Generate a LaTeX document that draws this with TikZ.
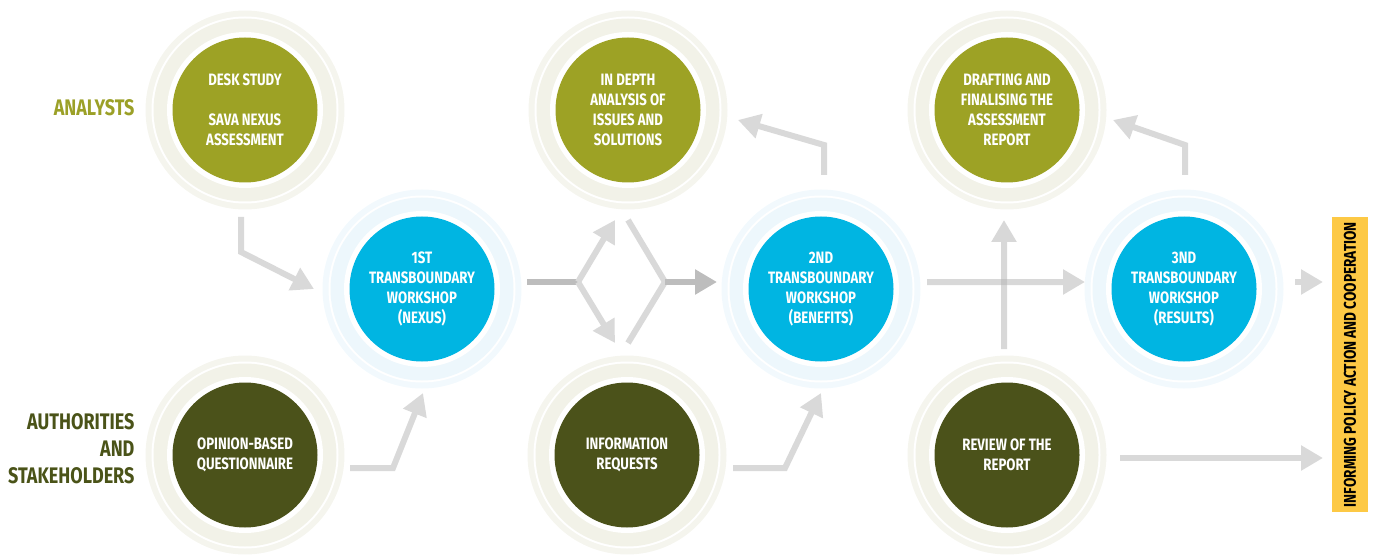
\documentclass[tikz,border=0pt]{standalone}
\usepackage{fontspec}
\setmainfont{Fira Sans}[FakeStretch=0.8]
\usetikzlibrary{arrows.meta,backgrounds}

\definecolor{olivefill}{HTML}{9DA225}
\definecolor{darkfill}{HTML}{4B521A}
\definecolor{bluefill}{HTML}{00B5E2}
\definecolor{oliveband}{HTML}{F2F2E8}
\definecolor{oliveouter}{HTML}{F5F5EE}
\definecolor{blueband}{HTML}{EDF7FC}
\definecolor{blueouter}{HTML}{F2F9FD}
\definecolor{arrowgray}{HTML}{D9D9D9}
\definecolor{arrowdark}{HTML}{BDBDBD}
\definecolor{analystcol}{HTML}{9BA027}
\definecolor{authcol}{HTML}{4A5318}
\definecolor{policyyellow}{HTML}{FDC945}

\tikzset{
  stage/.style={circle, fill=#1, minimum size=145pt, inner sep=0pt,
    text=white, align=center, font=\bfseries\fontsize{16.5}{20}\selectfont},
  flow/.style={draw=arrowgray, line width=6pt, line join=miter,
    -{Triangle[length=22pt,width=24pt]}},
  flowline/.style={draw=arrowgray, line width=6pt, line join=miter},
  flowdark/.style={draw=arrowdark, line width=6pt, line join=miter},
  rolelabel/.style={anchor=east, align=right,
    font=\bfseries\fontsize{22.5}{27}\selectfont},
}

\begin{document}
\begin{tikzpicture}[x=1pt,y=-1pt]
\useasboundingbox (0,0) rectangle (1376,556);

% stages
\node[stage=olivefill] (desk) at (245,110) {DESK STUDY\\[20pt]SAVA NEXUS\\ASSESSMENT};
\node[stage=olivefill] (depth) at (628,110) {IN DEPTH\\ANALYSIS OF\\ISSUES AND\\SOLUTIONS};
\node[stage=olivefill] (draft) at (1007,110) {DRAFTING AND\\FINALISING THE\\ASSESSMENT\\REPORT};
\node[stage=bluefill] (ws1) at (422,289) {1ST\\TRANSBOUNDARY\\WORKSHOP\\(NEXUS)};
\node[stage=bluefill] (ws2) at (821,289) {2ND\\TRANSBOUNDARY\\WORKSHOP\\(BENEFITS)};
\node[stage=bluefill] (ws3) at (1184,289) {3ND\\TRANSBOUNDARY\\WORKSHOP\\(RESULTS)};
\node[stage=darkfill] (quest) at (245,455) {OPINION-BASED\\QUESTIONNAIRE};
\node[stage=darkfill] (info) at (627,455) {INFORMATION\\REQUESTS};
\node[stage=darkfill] (review) at (1007,455) {REVIEW OF THE\\REPORT};

% halo rings behind each stage
\begin{pgfonlayer}{background}
\foreach \n/\band/\outer in {desk/oliveband/oliveouter, depth/oliveband/oliveouter,
    draft/oliveband/oliveouter, quest/oliveband/oliveouter, info/oliveband/oliveouter,
    review/oliveband/oliveouter, ws1/blueband/blueouter, ws2/blueband/blueouter,
    ws3/blueband/blueouter} {
  \fill[\outer] (\n.center) circle[radius=99.5pt];
  \fill[white] (\n.center) circle[radius=93.5pt];
  \fill[\band] (\n.center) circle[radius=91.5pt];
  \fill[white] (\n.center) circle[radius=78pt];
}
\end{pgfonlayer}

% role labels
\node[rolelabel, text=analystcol] (analysts) at (138,108) {ANALYSTS};
\node[rolelabel, text=authcol] (authorities) at (138,449) {AUTHORITIES\\AND\\STAKEHOLDERS};

% outcome bar
\node[fill=policyyellow, rotate=90, minimum width=295pt, minimum height=36pt,
  inner sep=0pt, font=\bfseries\fontsize{17}{18}\selectfont] (policy) at (1350,364.5)
  {INFORMING POLICY ACTION AND COOPERATION};

% connector end points
\coordinate (a1s) at (241,217);  \coordinate (a1k) at (241,252);  \coordinate (a1e) at (314,289);
\coordinate (a2s) at (350,468);  \coordinate (a2k) at (393,468);  \coordinate (a2e) at (423,393);
\coordinate (sps) at (527,282);  \coordinate (spk) at (578,282);
\coordinate (spu) at (615,220);  \coordinate (spd) at (615,343);
\coordinate (mgu) at (628,220);  \coordinate (mgd) at (628,343);
\coordinate (mgk) at (665,282);  \coordinate (mge) at (717,282);
\coordinate (a5s) at (733,468);  \coordinate (a5k) at (785,468);  \coordinate (a5e) at (821,393);
\coordinate (a6s) at (824,175);  \coordinate (a6k) at (824,145);  \coordinate (a6e) at (738,120);
\coordinate (a7s) at (927,282);  \coordinate (a7e) at (1085,282);
\coordinate (a8s) at (1004,349); \coordinate (a8e) at (1004,220);
\coordinate (a9s) at (1185,175); \coordinate (a9k) at (1185,145); \coordinate (a9e) at (1113,120);
\coordinate (a10s) at (1295,282); \coordinate (a10e) at (1323,282);
\coordinate (a11s) at (1120,458); \coordinate (a11e) at (1323,458);

% connectors
\draw[flow] (a1s) -- (a1k) -- (a1e);
\draw[flow] (a2s) -- (a2k) -- (a2e);
\draw[flowdark] (sps) -- (spk);
\draw[flow] (spk) -- (spu);
\draw[flow] (spk) -- (spd);
\draw[flowline] (mgu) -- (mgk) -- (mgd);
\draw[flowdark, -{Triangle[length=22pt,width=24pt]}] (mgk) -- (mge);
\draw[flow] (a5s) -- (a5k) -- (a5e);
\draw[flow] (a6s) -- (a6k) -- (a6e);
\begin{scope}[transparency group, opacity=0.5]
  \draw[flow, draw=black!30, fill=black!30] (a7s) -- (a7e);
\end{scope}
\begin{scope}[transparency group, opacity=0.5]
  \draw[flow, draw=black!30, fill=black!30] (a8s) -- (a8e);
\end{scope}
\draw[flow] (a9s) -- (a9k) -- (a9e);
\draw[flow] (a10s) -- (a10e);
\draw[flow] (a11s) -- (a11e);
\end{tikzpicture}
\end{document}
